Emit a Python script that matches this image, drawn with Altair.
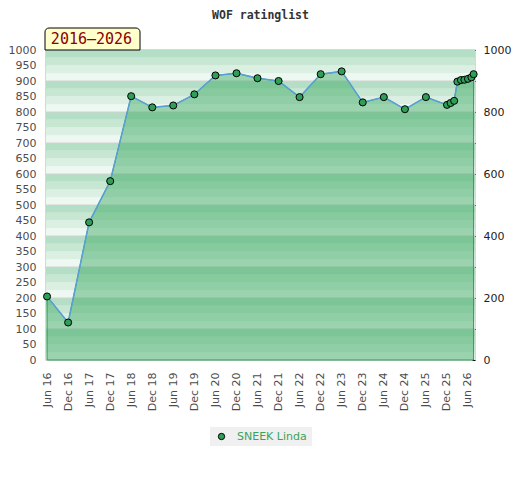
import altair as alt
import pandas as pd

# ---- data ----
dates = [
    "2016-06-01", "2016-12-01", "2017-06-01", "2017-12-01", "2018-06-01",
    "2018-12-01", "2019-06-01", "2019-12-01", "2020-06-01", "2020-12-01",
    "2021-06-01", "2021-12-01", "2022-06-01", "2022-12-01", "2023-06-01",
    "2023-12-01", "2024-06-01", "2024-12-01", "2025-06-01", "2025-12-01",
    "2026-01-01", "2026-02-01", "2026-03-01", "2026-04-01", "2026-05-01",
    "2026-06-01", "2026-07-01", "2026-07-20",
]
ratings = [
    205, 121, 444, 577, 851,
    815, 821, 857, 918, 925,
    909, 900, 848, 922, 931,
    831, 848, 809, 848, 823,
    829, 836, 898, 903, 904,
    907, 912, 922,
]
series_name = "SNEEK Linda"
title_text = "WOF ratinglist"
period_text = "2016–2026"

left_ticks = list(range(0, 1001, 50))
right_ticks = list(range(0, 1001, 100))
x_tick_dates = [(y, m) for y in range(2016, 2027) for m in (6, 12)]
x_tick_dates = [t for t in x_tick_dates if t <= (2026, 6)]

stripe_colors = ["#eef8f2", "#dbefe3", "#c8e7d3", "#b4dec5"]  # bottom -> top within each 100
grid_values = list(range(100, 1000, 100))

W, H = 429, 310

df = pd.DataFrame({"date": dates, "rating": ratings, "series": [series_name] * len(dates)})
stripes = pd.DataFrame(
    [{"lo": lo, "hi": lo + 25, "c": stripe_colors[(lo % 100) // 25]} for lo in range(0, 1000, 25)]
)
grid = pd.DataFrame({"g": grid_values})
one = pd.DataFrame({"a": [0]})

yscale = alt.Scale(domain=[0, 1000], nice=False, zero=True)
xscale = alt.Scale(
    type="utc",
    domain=[alt.DateTime(year=2016, month=5, date=23, utc=True),
            alt.DateTime(year=2026, month=8, date=1, utc=True)],
)

font = "DejaVu Sans"

x_axis = alt.Axis(
    values=[alt.DateTime(year=y, month=m, date=1, utc=True) for y, m in x_tick_dates],
    format="%b %y", labelAngle=-90, ticks=False, domain=False, grid=False,
    labelOverlap=False, labelBound=False, labelFlush=False,
    labelPadding=12, labelFont=font, labelFontSize=11, labelColor="#4d4d4d",
)


def xenc():
    return alt.X("date:T", scale=xscale, title=None, axis=x_axis)


stripe_layer = alt.Chart(stripes).mark_rect().encode(
    x=alt.value(0), x2=alt.value(W),
    y=alt.Y("lo:Q", scale=yscale, axis=None), y2="hi:Q",
    color=alt.Color("c:N", scale=None),
)

grid_layer = alt.Chart(grid).mark_rule(color="#d2d2d2", strokeWidth=1).encode(
    x=alt.value(0), x2=alt.value(W),
    y=alt.Y("g:Q", scale=yscale, axis=None),
)

base = alt.Chart(df)

area_layer = base.mark_area(
    fill="#35a65d", fillOpacity=0.45, stroke="#2e9a50", strokeWidth=1
).encode(
    x=xenc(),
    y=alt.Y(
        "rating:Q", scale=yscale, title=None,
        axis=alt.Axis(
            orient="left", values=left_ticks, format="d", ticks=False, domain=False, grid=False,
            labelOverlap=False,
            labelPadding=10, labelFont=font, labelFontSize=11, labelColor="#4d4d4d",
        ),
    ),
)

line_layer = base.mark_line(color="#5b9fd6", strokeWidth=1.5).encode(
    x=xenc(),
    y=alt.Y("rating:Q", scale=yscale, axis=None),
)

legend_box = alt.Chart(one).mark_rect(fill="#f0f0f0").encode(
    x=alt.value(164), x2=alt.value(266), y=alt.value(377), y2=alt.value(396)
)

point_layer = base.mark_circle(size=50, stroke="black", strokeWidth=1, opacity=1).encode(
    x=xenc(),
    y=alt.Y(
        "rating:Q", scale=yscale, title=None,
        axis=alt.Axis(
            orient="right", values=right_ticks, format="d",
            labelExpr="datum.value % 200 == 0 ? datum.label : ''",
            tickSize=3, tickColor="black", tickWidth=1, offset=-3, domain=False, grid=False,
            labelOverlap=False,
            labelPadding=8, labelFont=font, labelFontSize=11, labelColor="#222222",
        ),
    ),
    fill=alt.Fill(
        "series:N", scale=alt.Scale(domain=[series_name], range=["#2f9e57"]),
        legend=alt.Legend(
            title=None, orient="none", legendX=170, legendY=381, padding=0,
            labelColor="#3aa35a", labelFont=font, labelFontSize=11, labelOffset=10,
            symbolType="circle", symbolSize=40, symbolStrokeColor="black", symbolStrokeWidth=1,
        ),
    ),
)

box_layer = alt.Chart(one).mark_rect(
    fill="#ffffcc", stroke="black", strokeWidth=1, cornerRadiusTopLeft=4, cornerRadiusTopRight=4
).encode(x=alt.value(-1), x2=alt.value(94), y=alt.value(-22), y2=alt.value(0))

box_text = alt.Chart(one).mark_text(
    text=period_text, font="DejaVu Sans Mono", fontSize=15, color="#8b0000",
    align="center", baseline="middle",
).encode(x=alt.value(45.5), y=alt.value(-11))

chart = alt.layer(
    stripe_layer, grid_layer, area_layer, line_layer, legend_box, point_layer, box_layer, box_text
).resolve_axis(y="independent").properties(
    width=W, height=H,
    title=alt.Title(title_text, font="DejaVu Sans Mono", fontSize=11.5, fontWeight="bold",
                    color="#333333", offset=6, anchor="middle"),
    autosize=alt.AutoSizeParams(type="none"),
    padding={"left": 38, "top": 42, "right": 37, "bottom": 112},
).configure_view(stroke="#cccccc", strokeWidth=1.5).configure_axis(labelOverlap=False)

chart.save("out.html", embed_options={"renderer": "svg", "actions": False})
